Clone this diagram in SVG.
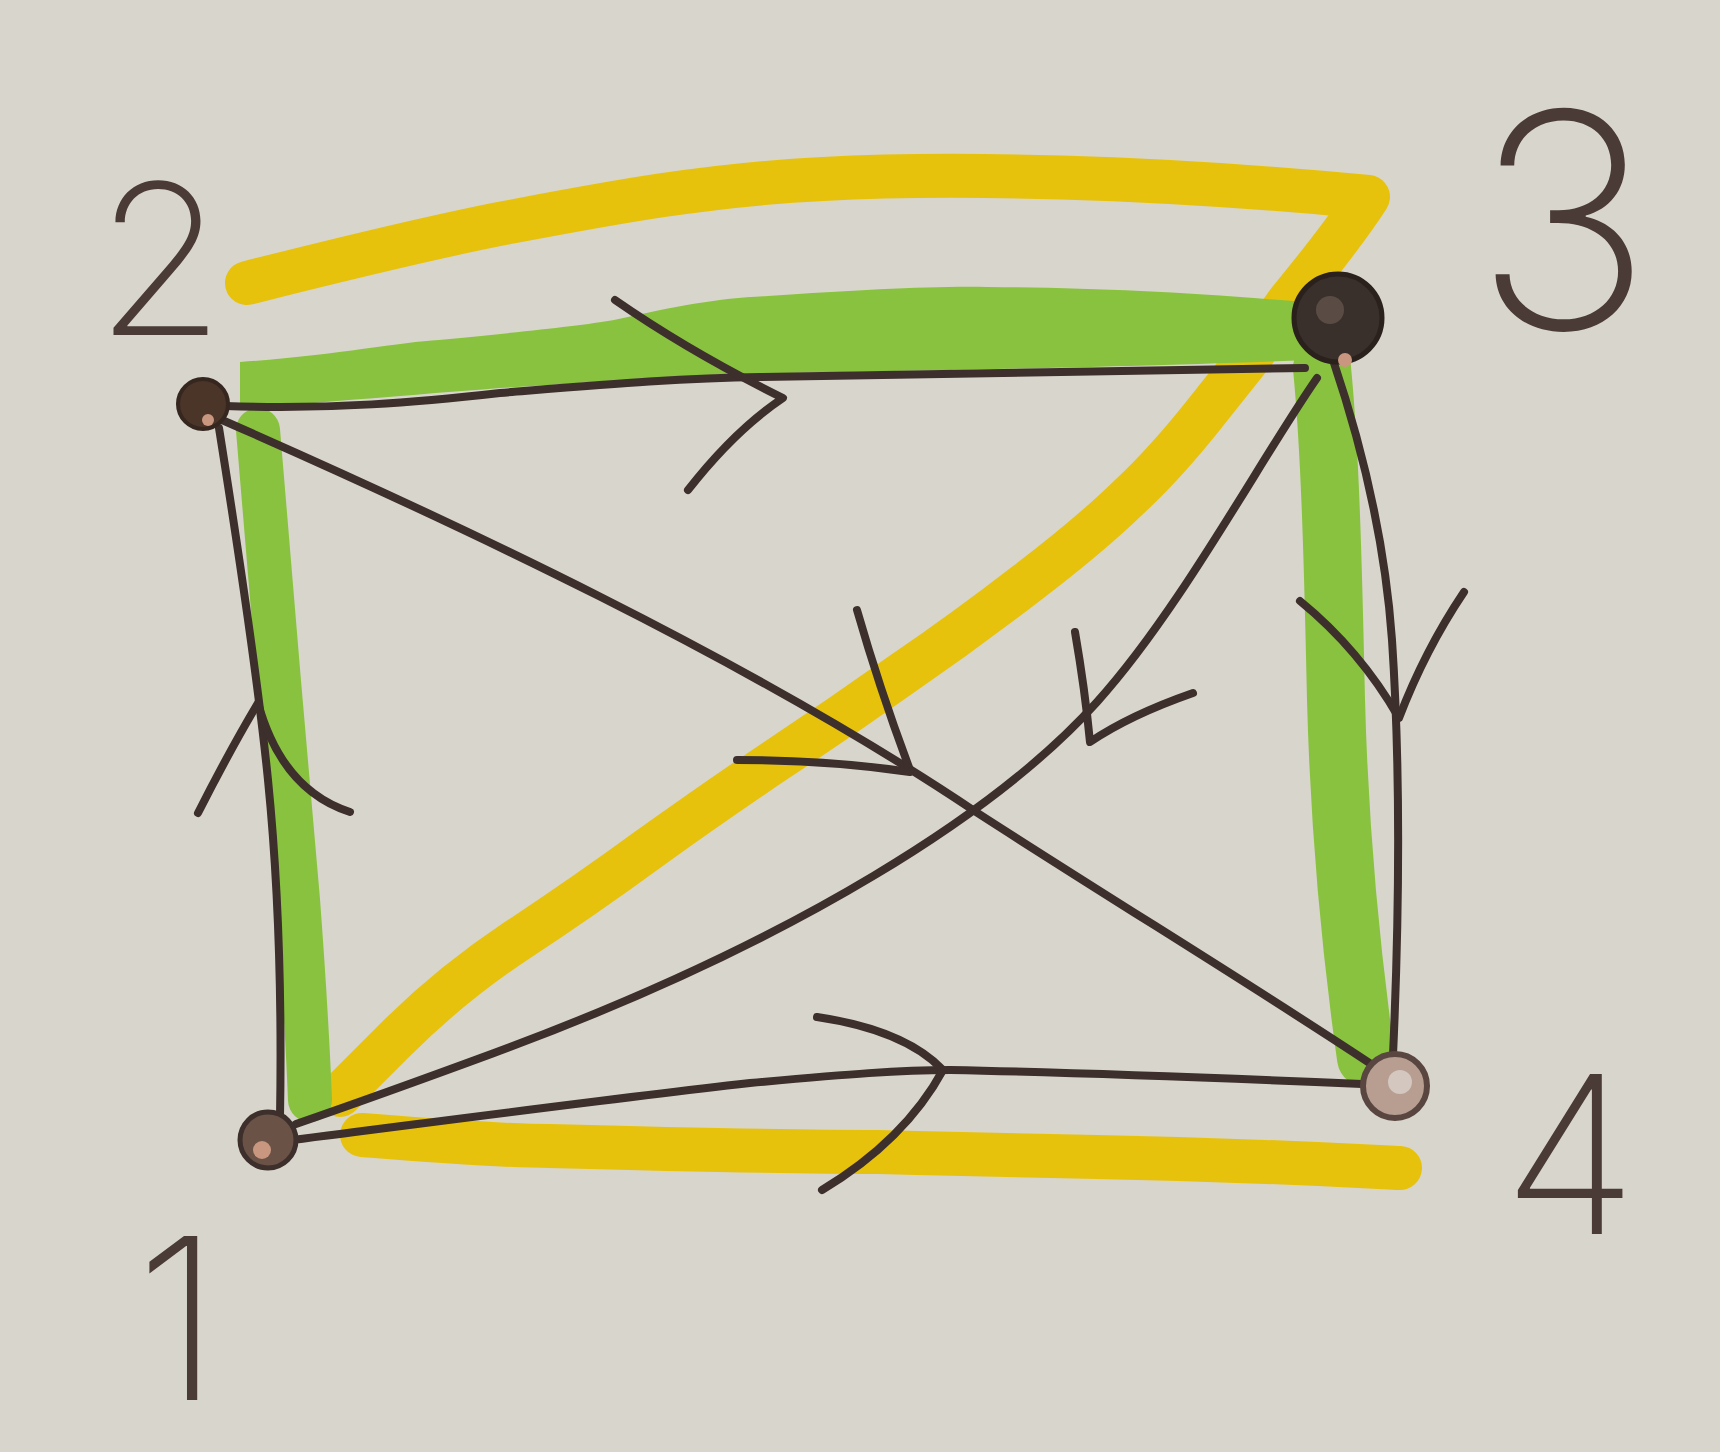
<svg xmlns="http://www.w3.org/2000/svg" width="1720" height="1452" viewBox="0 0 1720 1452">
<style>
.ink{fill:none;stroke:#3d2f2b;stroke-width:8;stroke-linecap:round;stroke-linejoin:round}
.green{fill:none;stroke:#89c23f;stroke-linecap:round;stroke-linejoin:round}
.greenfill{fill:#89c23f}
.yellow{fill:none;stroke:#e7c20c;stroke-width:44;stroke-linecap:round;stroke-linejoin:round}
.lbl{font-family:Inter,"DejaVu Sans","Liberation Sans",sans-serif;font-weight:200;fill:#4a3b37;text-anchor:middle}
</style>
<rect width="1720" height="1452" fill="#d8d5cd"/>
<g id="highlights">
<path class="yellow" d="M247,283 C 330,262 420,240 494,225 C 600,205 700,185 823,179 C 950,172 1150,176 1368,197 C 1340,240 1310,275 1290,300 C 1275,320 1265,337 1253,353 L1210,407 Q1167,462 1128,498 Q1090,535 1027,583 Q965,631 902,674 Q840,718 778,759 Q717,800 650,848 Q583,897 516,941 Q450,985 395,1040 L340,1095"/>
<path class="yellow" d="M362,1135 C 450,1142 520,1146 549,1146 C 700,1150 800,1152 878,1152 C 960,1154 1050,1156 1097,1157 C 1250,1160 1340,1165 1400,1168"/>
<path class="greenfill" d="M240,362 C 330,356 400,342 439,340 C 520,332 580,326 614,320 C 680,305 720,298 768,296 C 860,290 930,286 987,287 C 1100,288 1180,292 1305,302 L 1310,360 C 1150,366 1000,369 950,370 C 850,372 780,373 733,374 C 640,378 570,384 500,388 C 400,396 320,402 240,410 Z"/>
<path class="green" stroke-width="44" d="M258,430 C 268,560 286,760 298,900 C 304,980 308,1050 310,1100"/>
<path class="green" stroke-width="58" d="M1322,368 C 1330,450 1333,560 1336,700 C 1340,850 1355,980 1366,1058"/>
</g>
<g id="connectors">
<g id="e2-3">
<path class="ink" d="M225,406 C 330,410 420,402 500,393 C 600,385 680,378 760,377 C 900,374 1100,372 1305,368"/>
<path class="ink" d="M615,300 Q 690,352 783,398 Q 735,430 688,490"/>
</g>
<g id="e3-4">
<path class="ink" d="M1333,360 C 1360,440 1385,540 1392,640 C 1400,760 1400,900 1393,1055"/>
<path class="ink" d="M1300,601 Q 1360,650 1399,718 Q 1425,650 1464,592"/>
</g>
<g id="e1-2">
<path class="ink" d="M280,1118 C 282,1000 278,880 268,780 C 260,700 240,560 219,428"/>
<path class="ink" d="M198,813 Q 230,750 258,703 Q 282,790 350,812"/>
</g>
<g id="e1-4">
<path class="ink" d="M292,1140 C 450,1120 600,1100 750,1083 C 850,1074 900,1070 950,1070 C 1050,1072 1150,1075 1362,1084"/>
<path class="ink" d="M817,1017 Q 905,1030 943,1070 Q 905,1140 822,1190"/>
</g>
<g id="e2-4">
<path class="ink" d="M222,420 C 450,520 750,660 976,812 C 1120,905 1260,990 1377,1068"/>
<path class="ink" d="M857,610 Q 880,690 910,770 M737,760 Q 830,760 910,772"/>
</g>
<g id="e3-1">
<path class="ink" d="M1317,378 C 1260,460 1180,610 1097,702 C 1000,810 800,940 494,1053 Q 380,1095 296,1124"/>
<path class="ink" d="M1075,632 Q 1085,690 1090,742 Q 1130,715 1193,693"/>
</g>
</g>
<g id="node-1">
<circle cx="268" cy="1140" r="28" fill="#6a5246" stroke="#3d2f2b" stroke-width="5"/>
<circle cx="262" cy="1150" r="9" fill="#c9977f"/>
<text class="lbl" x="178" y="1400" font-size="225">1</text>
</g>
<g id="node-2">
<circle cx="203" cy="404" r="25" fill="#4b3428" stroke="#35261f" stroke-width="4"/>
<circle cx="208" cy="420" r="6" fill="#c9977f"/>
<text class="lbl" x="160" y="335" font-size="210">2</text>
</g>
<g id="node-3">
<circle cx="1338" cy="318" r="44" fill="#3a302b" stroke="#2a211d" stroke-width="5"/>
<circle cx="1330" cy="310" r="14" fill="#5a4c45"/>
<circle cx="1345" cy="360" r="7" fill="#c9977f"/>
<text class="lbl" x="1563" y="329" font-size="300">3</text>
</g>
<g id="node-4">
<circle cx="1395" cy="1086" r="32" fill="#b79e91" stroke="#5a4640" stroke-width="6"/>
<circle cx="1400" cy="1082" r="12" fill="#d3c7c0"/>
<text class="lbl" x="1570" y="1234" font-size="220">4</text>
</g>
</svg>
